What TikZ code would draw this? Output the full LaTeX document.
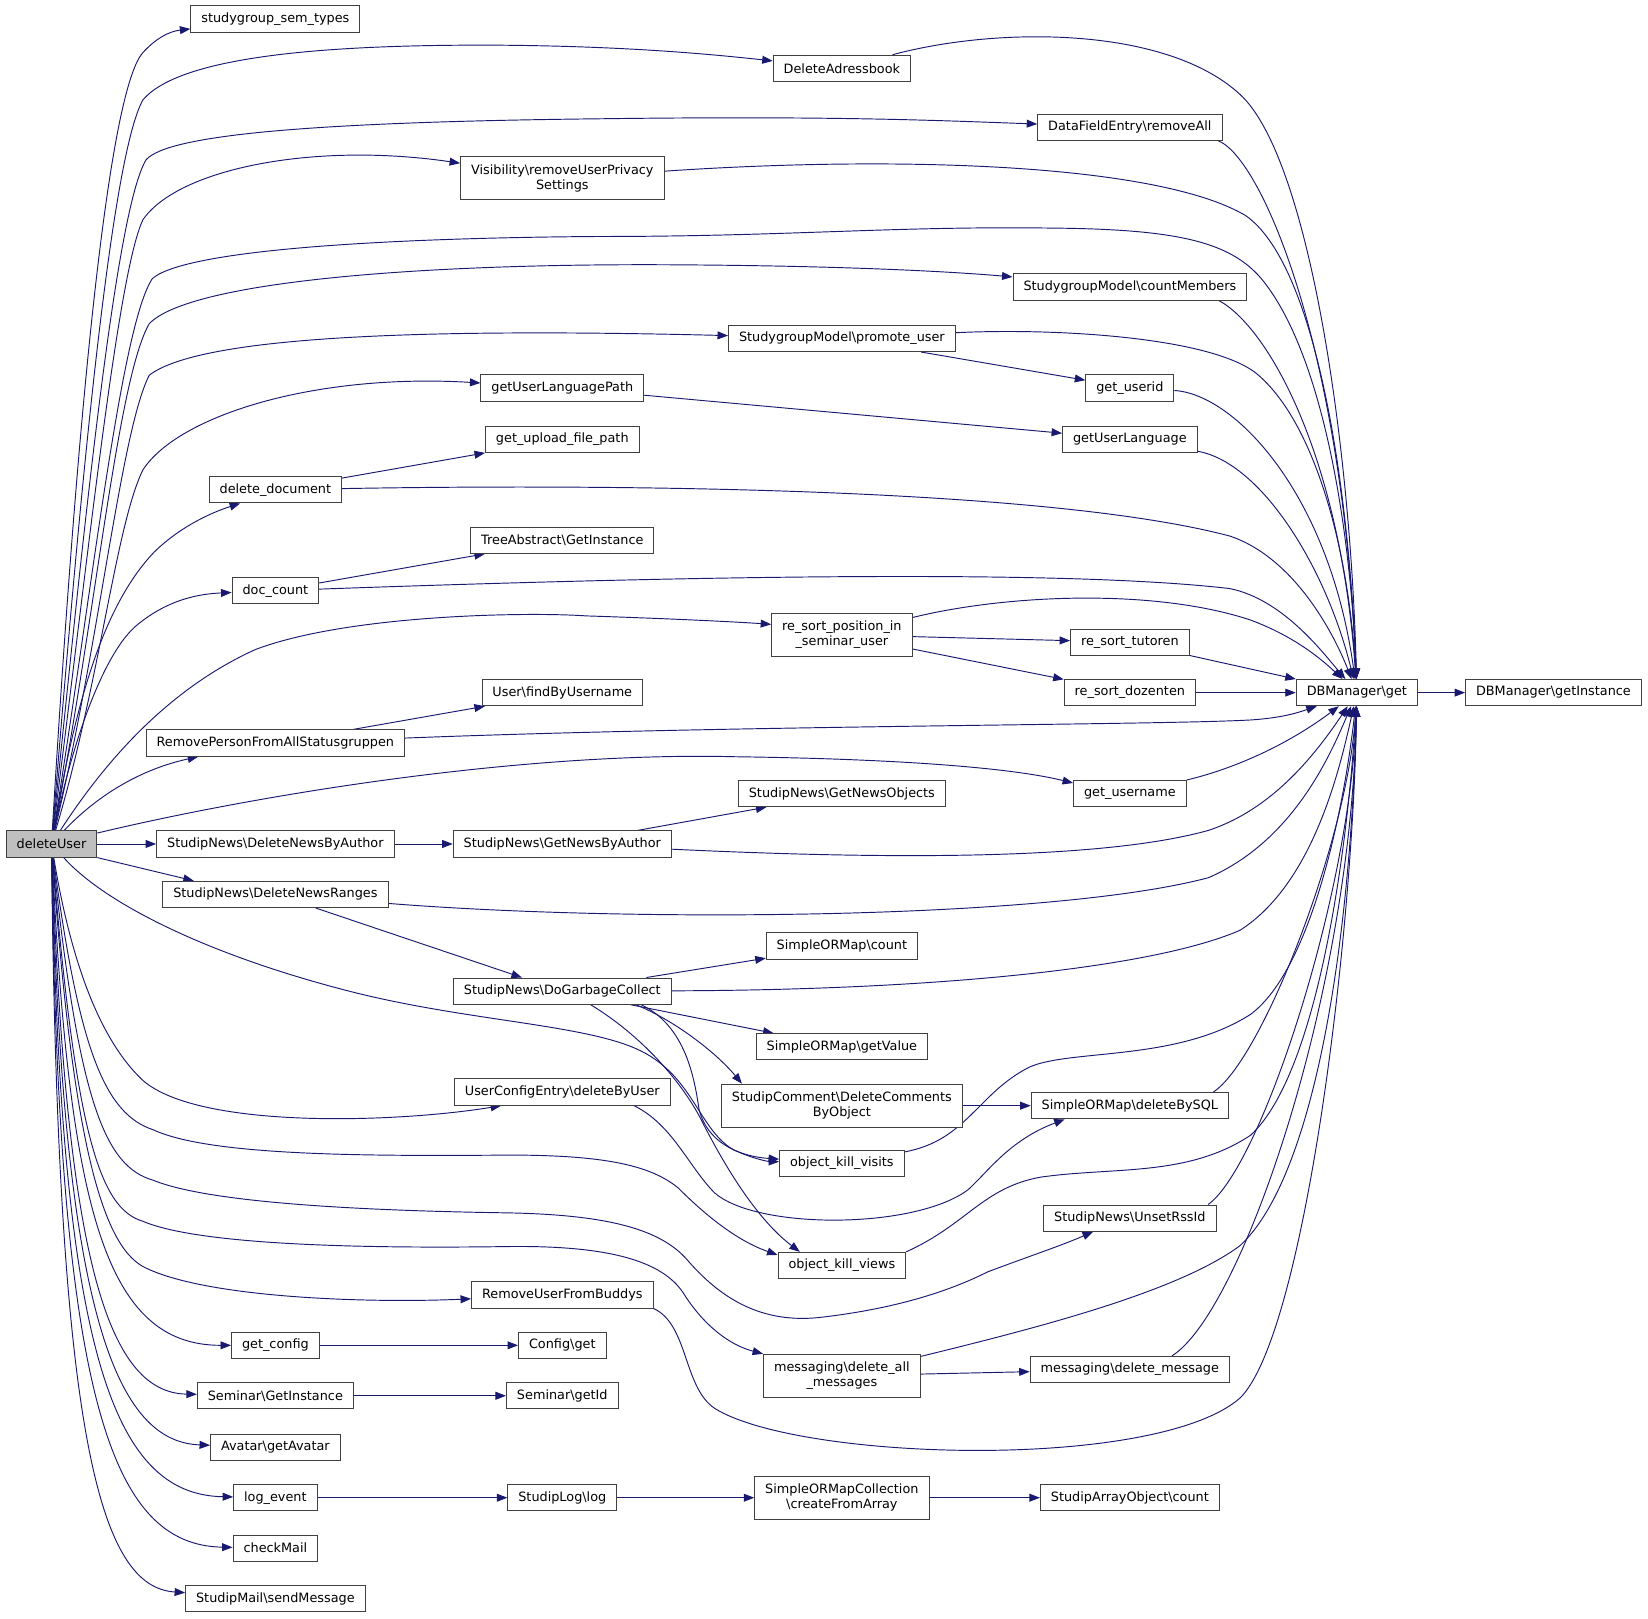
\documentclass[tikz,border=0pt]{standalone}
\usepackage{fontspec}
\setmainfont{DejaVu Sans}
\usetikzlibrary{arrows.meta, backgrounds}

\definecolor{edgeblue}{HTML}{191970}
\definecolor{boxgray}{HTML}{404040}
\newcommand{\bsl}{\textbackslash}

\begin{document}
\begin{tikzpicture}[
    x=1pt, y=-1pt,
    block/.style={rectangle, draw=boxgray, fill=white, line width=0.9pt, inner xsep=10pt, inner ysep=6pt, minimum height=25pt, align=center, font=\fontsize{12.2pt}{14.5pt}\selectfont},
    twoline/.style={block, minimum height=41pt},
    root/.style={block, fill=black!25},
    line/.style={draw=edgeblue, line width=0.9pt, -{Triangle[length=10pt, width=7.5pt]}}
]
    \useasboundingbox (0,0) rectangle (1568,1540);

    % Nodes
    \node [root] (deleteUser) at (49,803) {deleteUser};
    \node [block] (sgsem) at (262,18) {studygroup\_sem\_types};
    \node [block] (delAdr) at (801,65) {DeleteAdressbook};
    \node [block] (dfeRem) at (1075,121) {DataFieldEntry\bsl removeAll};
    \node [twoline] (visPriv) at (535,169.5) {Visibility\bsl removeUserPrivacy\\Settings};
    \node [block] (sgCount) at (1075,273) {StudygroupModel\bsl countMembers};
    \node [block] (sgPromote) at (801,322) {StudygroupModel\bsl promote\_user};
    \node [block] (getUserid) at (1075,369) {get\_userid};
    \node [block] (langPath) at (535,369) {getUserLanguagePath};
    \node [block] (uploadPath) at (535,418) {get\_upload\_file\_path};
    \node [block] (userLang) at (1075,418) {getUserLanguage};
    \node [block] (delDoc) at (262,466) {delete\_document};
    \node [block] (treeInst) at (535,514) {TreeAbstract\bsl GetInstance};
    \node [block] (docCount) at (262,562) {doc\_count};
    \node [twoline] (reSortPos) at (801,604) {re\_sort\_position\_in\\\_seminar\_user};
    \node [block] (reSortTut) at (1075,611) {re\_sort\_tutoren};
    \node [block] (findUser) at (535,659) {User\bsl findByUsername};
    \node [block] (reSortDoz) at (1075,659) {re\_sort\_dozenten};
    \node [block] (dbGet) at (1291,659) {DBManager\bsl get};
    \node [block] (dbInst) at (1478,659) {DBManager\bsl getInstance};
    \node [block] (removePerson) at (262,707) {RemovePersonFromAllStatusgruppen};
    \node [block] (newsObjects) at (801,755) {StudipNews\bsl GetNewsObjects};
    \node [block] (getUsername) at (1075,755) {get\_username};
    \node [block] (delByAuthor) at (262,803) {StudipNews\bsl DeleteNewsByAuthor};
    \node [block] (newsByAuthor) at (535,803) {StudipNews\bsl GetNewsByAuthor};
    \node [block] (delRanges) at (262,851) {StudipNews\bsl DeleteNewsRanges};
    \node [block] (ormCount) at (801,900) {SimpleORMap\bsl count};
    \node [block] (garbage) at (535,943) {StudipNews\bsl DoGarbageCollect};
    \node [block] (ormValue) at (801,996) {SimpleORMap\bsl getValue};
    \node [twoline] (delComments) at (801,1052) {StudipComment\bsl DeleteComments\\ByObject};
    \node [block] (delBySql) at (1075,1052) {SimpleORMap\bsl deleteBySQL};
    \node [block] (cfgDelete) at (535,1039) {UserConfigEntry\bsl deleteByUser};
    \node [block] (killVisits) at (801,1107) {object\_kill\_visits};
    \node [block] (unsetRss) at (1075,1159) {StudipNews\bsl UnsetRssId};
    \node [block] (killViews) at (801,1204) {object\_kill\_views};
    \node [block] (removeBuddys) at (535,1232) {RemoveUserFromBuddys};
    \node [block] (getConfig) at (262,1280) {get\_config};
    \node [block] (configGet) at (535,1280) {Config\bsl get};
    \node [twoline] (delAllMsg) at (801,1309) {messaging\bsl delete\_all\\\_messages};
    \node [block] (delMsg) at (1075,1303) {messaging\bsl delete\_message};
    \node [block] (semInst) at (262,1328) {Seminar\bsl GetInstance};
    \node [block] (semId) at (535,1328) {Seminar\bsl getId};
    \node [block] (avatar) at (262,1377) {Avatar\bsl getAvatar};
    \node [block] (logEvent) at (262,1425) {log\_event};
    \node [block] (studipLog) at (535,1425) {StudipLog\bsl log};
    \node [twoline] (ormCollection) at (801,1425) {SimpleORMapCollection\\\bsl createFromArray};
    \node [block] (arrayCount) at (1075,1425) {StudipArrayObject\bsl count};
    \node [block] (checkMail) at (262,1473) {checkMail};
    \node [block] (sendMessage) at (262,1521) {StudipMail\bsl sendMessage};

    % Edges
    \begin{scope}[on background layer]
    % deleteUser, upper fan
    \path [line] (deleteUser) .. controls (70,450) and (100,90) .. (136,50) .. controls (148,37) and (160,30) .. (sgsem);
    \path [line] (deleteUser) .. controls (75,480) and (105,150) .. (136,95) .. controls (170,55) and (300,42) .. (476,43) .. controls (600,44) and (680,52) .. (delAdr);
    \path [line] (deleteUser) .. controls (80,500) and (110,200) .. (139,152) .. controls (160,128) and (300,116) .. (571,113) .. controls (800,110) and (900,115) .. (dfeRem);
    \path [line] (deleteUser) .. controls (85,520) and (112,260) .. (136,209) .. controls (170,160) and (300,135) .. (visPriv);
    \path [line] (deleteUser) .. controls (88,560) and (115,310) .. (145,265) .. controls (180,235) and (400,226) .. (571,225) .. controls (750,225) and (850,215) .. (1000,217) .. controls (1120,218) and (1170,230) .. (1200,265) .. controls (1258,335) and (1285,500) .. (dbGet);
    \path [line] (deleteUser) .. controls (92,580) and (112,360) .. (142,308) .. controls (180,268) and (400,250) .. (650,252) .. controls (800,253) and (900,258) .. (sgCount);
    \path [line] (deleteUser) .. controls (95,610) and (115,410) .. (142,357) .. controls (190,320) and (400,312) .. (sgPromote);
    \path [line] (deleteUser) .. controls (95,650) and (110,500) .. (136,447) .. controls (170,395) and (300,355) .. (langPath);
    \path [line] (deleteUser) .. controls (70,680) and (95,580) .. (146,526) .. controls (170,502) and (200,488) .. ([xshift=30pt]delDoc.south west);
    \path [line] (deleteUser) .. controls (70,700) and (100,620) .. (130,595) .. controls (160,570) and (190,565) .. (docCount);
    \path [line] (deleteUser) .. controls (90,740) and (150,660) .. (243,618) .. controls (330,585) and (500,582) .. (558,586) .. controls (620,588) and (690,591) .. ([yshift=10pt]reSortPos.west);
    \path [line] (deleteUser) .. controls (80,770) and (120,735) .. ([xshift=50pt]removePerson.south west);
    \path [line] (deleteUser) .. controls (250,755) and (500,715) .. (700,720) .. controls (850,722) and (960,730) .. ([yshift=10pt]getUsername.west);
    \path [line] (deleteUser) -- (delByAuthor);
    \path [line] (deleteUser.south east) -- ([xshift=30pt]delRanges.north west);
    % deleteUser, lower fan
    \path [line] (deleteUser) .. controls (100,860) and (200,910) .. (340,945) .. controls (450,972) and (560,975) .. (610,1000) .. controls (660,1025) and (665,1075) .. (698,1094) .. controls (715,1102) and (730,1105) .. (killVisits);
    \path [line] (deleteUser) .. controls (65,900) and (90,985) .. (136,1028) .. controls (190,1075) and (380,1068) .. ([xshift=45pt]cfgDelete.south west);
    \path [line] (deleteUser) .. controls (75,1000) and (100,1060) .. (146,1075) .. controls (200,1100) and (350,1100) .. (485,1099) .. controls (580,1099) and (620,1110) .. (645,1130) .. controls (670,1155) and (700,1180) .. ([yshift=10pt]killViews.west);
    \path [line] (deleteUser) .. controls (75,1050) and (100,1110) .. (146,1123) .. controls (200,1145) and (350,1152) .. (485,1154) .. controls (580,1156) and (630,1170) .. (655,1200) .. controls (690,1240) and (730,1260) .. (784,1253) .. controls (850,1245) and (900,1230) .. (940,1210) .. controls (980,1195) and (1010,1185) .. ([xshift=-35pt]unsetRss.south);
    \path [line] (deleteUser) .. controls (72,1080) and (95,1150) .. (136,1162) .. controls (190,1185) and (350,1188) .. (485,1186) .. controls (580,1185) and (630,1200) .. (650,1230) .. controls (670,1262) and (695,1280) .. (delAllMsg.north west);
    \path [line] (deleteUser) .. controls (70,1100) and (100,1190) .. (140,1207) .. controls (200,1235) and (350,1240) .. (removeBuddys);
    \path [line] (deleteUser) .. controls (66,1150) and (100,1280) .. (getConfig);
    \path [line] (deleteUser) .. controls (63,1190) and (100,1325) .. (semInst);
    \path [line] (deleteUser) .. controls (60,1230) and (105,1372) .. (avatar);
    \path [line] (deleteUser) .. controls (58,1280) and (105,1422) .. (logEvent);
    \path [line] (deleteUser) .. controls (56,1330) and (105,1470) .. (checkMail);
    \path [line] (deleteUser) .. controls (55,1370) and (95,1510) .. (sendMessage);
    % callees
    \path [line] (sgPromote) -- (getUserid);
    \path [line] (langPath) -- (userLang);
    \path [line] (delDoc) -- (uploadPath);
    \path [line] (docCount) -- (treeInst);
    \path [line] (reSortPos) -- (reSortTut);
    \path [line] (reSortPos) -- (reSortDoz);
    \path [line] (reSortTut) -- (dbGet);
    \path [line] (reSortDoz) -- (dbGet);
    \path [line] (dbGet) -- (dbInst);
    \path [line] (removePerson) -- (findUser);
    \path [line] (delByAuthor) -- (newsByAuthor);
    \path [line] (newsByAuthor) -- (newsObjects);
    \path [line] (delRanges) -- (garbage);
    \path [line] (garbage) -- (ormCount);
    \path [line] (garbage) -- (ormValue);
    \path [line] ([xshift=70pt]garbage.south) .. controls (640,970) and (680,1000) .. ([xshift=20pt]delComments.north west);
    \path [line] ([xshift=75pt]garbage.south) .. controls (650,975) and (660,1020) .. (665,1055) .. controls (672,1085) and (700,1100) .. (killVisits);
    \path [line] ([xshift=27pt]garbage.south) .. controls (610,985) and (650,1030) .. (669,1069) .. controls (690,1110) and (720,1160) .. ([xshift=-40pt]killViews.north);
    \path [line] (delComments) -- (delBySql);
    \path [line] ([xshift=-35pt]cfgDelete.south east) .. controls (640,1070) and (655,1110) .. (680,1135) .. controls (720,1170) and (870,1170) .. (921,1132) .. controls (940,1115) and (960,1085) .. ([xshift=-62pt]delBySql.south);
    \path [line] (getConfig) -- (configGet);
    \path [line] (semInst) -- (semId);
    \path [line] (logEvent) -- (studipLog);
    \path [line] (studipLog) -- (ormCollection);
    \path [line] (ormCollection) -- (arrayCount);
    \path [line] (delAllMsg) -- (delMsg);
    % into DBManager\get
    \path [line] (delAdr) .. controls (950,25) and (1110,25) .. (1180,90) .. controls (1245,150) and (1285,420) .. (dbGet);
    \path [line] ([xshift=-4pt]dfeRem.south east) .. controls (1200,150) and (1278,330) .. (dbGet);
    \path [line] (visPriv) .. controls (850,148) and (1100,155) .. (1185,205) .. controls (1250,250) and (1283,450) .. (dbGet);
    \path [line] ([xshift=-27pt]sgCount.south east) .. controls (1205,310) and (1275,430) .. (dbGet);
    \path [line] (sgPromote) .. controls (1000,312) and (1150,320) .. (1195,355) .. controls (1250,400) and (1283,520) .. (dbGet);
    \path [line] (getUserid) .. controls (1175,375) and (1265,470) .. (dbGet);
    \path [line] (userLang) .. controls (1200,440) and (1262,540) .. (dbGet);
    \path [line] (delDoc) .. controls (600,460) and (1000,465) .. (1170,510) .. controls (1230,530) and (1268,600) .. (dbGet);
    \path [line] (docCount) .. controls (600,550) and (1000,540) .. (1170,560) .. controls (1220,570) and (1258,620) .. (dbGet);
    \path [line] (reSortPos) .. controls (960,565) and (1100,560) .. (1190,590) .. controls (1230,605) and (1255,625) .. (dbGet);
    \path [line] (removePerson) .. controls (700,690) and (1100,690) .. (1190,685) .. controls (1220,683) and (1235,678) .. (dbGet);
    \path [line] (getUsername) .. controls (1180,730) and (1230,705) .. (dbGet);
    \path [line] (newsByAuthor) .. controls (850,818) and (1050,818) .. (1150,790) .. controls (1210,770) and (1250,720) .. (dbGet);
    \path [line] (delRanges) .. controls (600,878) and (1000,875) .. (1150,835) .. controls (1230,800) and (1265,720) .. (dbGet);
    \path [line] (garbage) .. controls (900,942) and (1100,920) .. (1180,885) .. controls (1250,840) and (1275,730) .. (dbGet);
    \path [line] (killVisits) .. controls (920,1085) and (930,1040) .. (980,1015) .. controls (1020,998) and (1120,1010) .. (1190,965) .. controls (1250,920) and (1280,760) .. (dbGet);
    \path [line] ([xshift=-15pt]delBySql.north east) .. controls (1200,1010) and (1282,800) .. (dbGet);
    \path [line] (killViews.north east) .. controls (920,1165) and (935,1130) .. (990,1120) .. controls (1060,1110) and (1130,1120) .. (1190,1080) .. controls (1255,1020) and (1283,800) .. (dbGet);
    \path [line] ([xshift=-8pt]unsetRss.north east) .. controls (1200,1110) and (1285,850) .. (dbGet);
    \path [line] (delAllMsg) .. controls (980,1265) and (1120,1230) .. (1180,1185) .. controls (1250,1120) and (1285,900) .. (dbGet);
    \path [line] ([xshift=40pt]delMsg.north) .. controls (1180,1250) and (1285,950) .. (dbGet);
    \path [line] (removeBuddys.south east) .. controls (655,1260) and (650,1320) .. (680,1340) .. controls (760,1390) and (1100,1400) .. (1180,1330) .. controls (1240,1270) and (1287,900) .. (dbGet);
    \end{scope}
\end{tikzpicture}
\end{document}
